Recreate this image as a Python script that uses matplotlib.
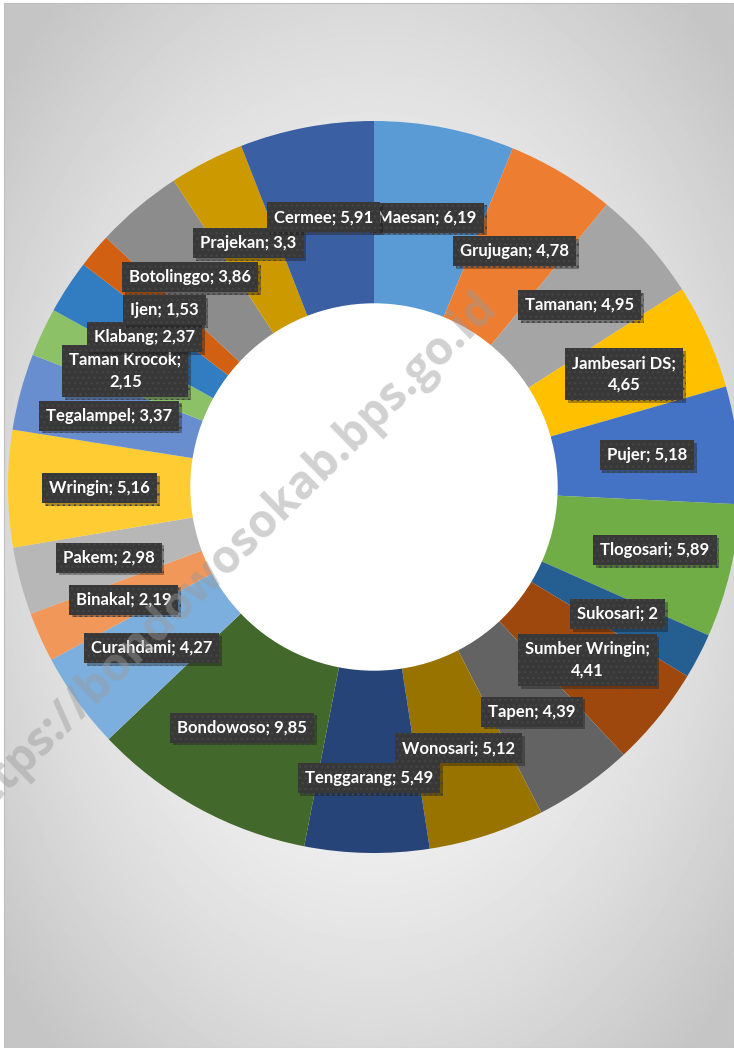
import numpy as np
import matplotlib.pyplot as plt
import matplotlib.patheffects as pe

# data, clockwise from the top
kecamatan = ["Maesan", "Grujugan", "Tamanan", "Jambesari DS", "Pujer", "Tlogosari",
             "Sukosari", "Sumber Wringin", "Tapen", "Wonosari", "Tenggarang", "Bondowoso",
             "Curahdami", "Binakal", "Pakem", "Wringin", "Tegalampel", "Taman Krocok",
             "Klabang", "Ijen", "Botolinggo", "Prajekan", "Cermee"]
nilai = [6.19, 4.78, 4.95, 4.65, 5.18, 5.89, 2, 4.41, 4.39, 5.12, 5.49, 9.85,
         4.27, 2.19, 2.98, 5.16, 3.37, 2.15, 2.37, 1.53, 3.86, 3.3, 5.91]
warna = ["#5B9BD5", "#ED7D31", "#A5A5A5", "#FFC000", "#4472C4", "#70AD47",
         "#255E91", "#9E480E", "#636363", "#997300", "#264478", "#43682B",
         "#7CAFDD", "#F1975A", "#B7B7B7", "#FFCD33", "#698ED0", "#8CC168",
         "#327DC2", "#D26012", "#8C8C8C", "#CC9A00", "#3A5FA3"]

# labels that Excel pushed aside to avoid overlaps (in points)
geser = {"Tenggarang": (0, -12), "Tlogosari": (10, 0), "Botolinggo": (-5, 0)}

W, H = 734, 1048
fig = plt.figure(figsize=(W / 100, H / 100), dpi=100)
fig.patch.set_facecolor("white")

# radial grey background
bg = fig.add_axes([4 / W, 0, (W - 4) / W, (H - 3) / H])
yy, xx = np.mgrid[0:H, 0:W]
d = np.sqrt(((xx - 370) / 367.0) ** 2 + ((yy - 524) / 524.0) ** 2)
shade = np.clip(1.0 - 0.15 * d ** 1.5, 0.77, 1.0)
bg.imshow(shade, cmap="gray", vmin=0, vmax=1, aspect="auto", interpolation="bilinear")
bg.set_xticks([])
bg.set_yticks([])
for s in bg.spines.values():
    s.set_color("#bfbfbf")
    s.set_linewidth(0.8)

# donut
cx, cy, R = 374, 487, 366
ax = fig.add_axes([(cx - R) / W, (H - cy - R) / H, 2 * R / W, 2 * R / H])
wedges, _ = ax.pie(nilai, colors=warna, startangle=90, counterclock=False, radius=1,
                   wedgeprops=dict(width=0.5, edgecolor="none"))
ax.set_xlim(-1, 1)
ax.set_ylim(-1, 1)
ax.axis("off")
hole = plt.Circle((0, 0), 0.5, color="white", zorder=3)
ax.add_patch(hole)

# watermark
fig.text(226 / W, 1 - 558 / H, "https://bondowosokab.bps.go.id", rotation=44.4,
         ha="center", va="center", fontsize=33, fontweight="bold",
         family="Open Sans", color="#9a9a9a", alpha=0.45, zorder=5)

# labels
total = sum(nilai)
mulai = 0
for nama, v in zip(kecamatan, nilai):
    tengah = (mulai + v / 2) / total * 2 * np.pi
    mulai += v
    x = 0.75 * np.sin(tengah)
    y = 0.75 * np.cos(tengah)
    angka = format(v, "g").replace(".", ",")
    if len(nama) >= 12:
        teks = nama + ";\n" + angka
    else:
        teks = nama + "; " + angka
    dx, dy = geser.get(nama, (0, 0))
    t = ax.annotate(teks, (x, y), xytext=(dx, dy), textcoords="offset points",
                    ha="center", va="center", fontsize=12, fontweight="bold",
                    family="Lato", color="white", linespacing=1.45, zorder=10,
                    bbox=dict(boxstyle="square,pad=0.42", fc="#383838", ec="#444444",
                              lw=0, hatch="..."))
    t.get_bbox_patch().set_path_effects([pe.withSimplePatchShadow(offset=(2, -2), alpha=0.35)])

fig.savefig("out.png", dpi=100)
